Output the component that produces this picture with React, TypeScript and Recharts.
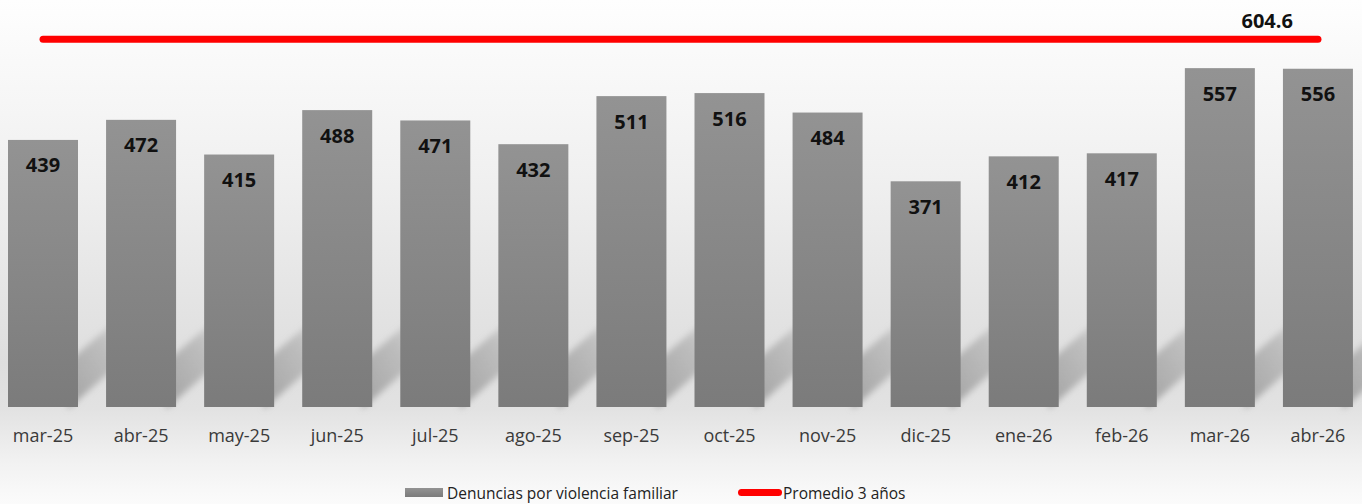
import React from 'react'
import { ComposedChart, Bar, Line, XAxis, YAxis, LabelList } from 'recharts'

const months = ['mar-25', 'abr-25', 'may-25', 'jun-25', 'jul-25', 'ago-25', 'sep-25', 'oct-25', 'nov-25', 'dic-25', 'ene-26', 'feb-26', 'mar-26', 'abr-26']
const denuncias = [439, 472, 415, 488, 471, 432, 511, 516, 484, 371, 412, 417, 557, 556]
const promedio = 604.6

const FONT = '"Open Sans", "Noto Sans", sans-serif'

const data = months.map((m, i) => ({ mes: m, denuncias: denuncias[i], promedio }))

// barra con sombra diagonal detrás
const BarWithShadow = (props: any) => {
  const { x, y, width, height } = props
  const b = y + height
  const r = x + width
  const pts = `${r - 10},${b + 2} ${r - 10},${b - 45} ${r + 60},${b - 105} ${r + 60},${b - 60}`
  return (
    <g>
      <polygon points={pts} fill="url(#shadowGrad)" filter="url(#shadowBlur)" />
      <rect x={x} y={y} width={width} height={height} fill="url(#barGrad)" />
    </g>
  )
}

const ValueLabel = (props: any) => {
  const { x, y, width, value } = props
  return (
    <text x={x + width / 2} y={y + 25} textAnchor="middle" dominantBaseline="central"
      style={{ fontFamily: FONT, fontSize: 20, fontWeight: 700, fill: '#111' }}>
      {value}
    </text>
  )
}

const AvgLabel = (props: any) => {
  const { x, y, value, index } = props
  if (index !== months.length - 1) return null
  return (
    <text x={x - 25} y={y - 19} textAnchor="end" dominantBaseline="central"
      style={{ fontFamily: FONT, fontSize: 20, fontWeight: 700, fill: '#111' }}>
      {value}
    </text>
  )
}

const MonthTick = (props: any) => {
  const { x, y, payload } = props
  return (
    <text x={x} y={y + 28} textAnchor="middle" dominantBaseline="central"
      style={{ fontFamily: FONT, fontSize: 18, fill: '#3a3a3a' }}>
      {payload.value}
    </text>
  )
}

export default function App() {
  return (
    <div style={{
      position: 'absolute', left: 0, top: 0, width: 1362, height: 504, overflow: 'hidden',
      background: 'linear-gradient(to bottom, #fefefe 0%, #f0f0f0 35%, #dedede 72%, #e2e2e2 81%, #f2f2f2 92%, #fbfbfb 100%)',
    }}>
      <div style={{ position: 'absolute', left: -6, top: 0 }}>
        <ComposedChart width={1373} height={504} data={data}
          margin={{ top: 0, right: 0, left: 0, bottom: 57 }}>
          <defs>
            <linearGradient id="barGrad" x1="0" y1="0" x2="0" y2="1">
              <stop offset="0%" stopColor="#939393" />
              <stop offset="100%" stopColor="#7b7b7b" />
            </linearGradient>
            <linearGradient id="shadowGrad" x1="0" y1="1" x2="1" y2="0">
              <stop offset="0%" stopColor="#9a9a9a" stopOpacity={0.9} />
              <stop offset="55%" stopColor="#a8a8a8" stopOpacity={0.6} />
              <stop offset="100%" stopColor="#c0c0c0" stopOpacity={0} />
            </linearGradient>
            <filter id="shadowBlur" x="-30%" y="-30%" width="160%" height="160%">
              <feGaussianBlur stdDeviation="3" />
            </filter>
          </defs>
          <XAxis dataKey="mes" axisLine={false} tickLine={false} tickSize={0} tickMargin={0}
            height={40} interval={0} tick={<MonthTick />} />
          <YAxis hide domain={[0, 669]} />
          <Bar dataKey="denuncias" barSize={70} shape={BarWithShadow} isAnimationActive={false}>
            <LabelList dataKey="denuncias" content={<ValueLabel />} />
          </Bar>
          <Line dataKey="promedio" type="linear" stroke="#ff0000" strokeWidth={7} strokeLinecap="round"
            dot={false} activeDot={false} isAnimationActive={false}>
            <LabelList dataKey="promedio" content={<AvgLabel />} />
          </Line>
        </ComposedChart>
      </div>

      {/* Leyenda */}
      <div style={{ position: 'absolute', top: 483, left: 0, width: 1362, height: 20, fontFamily: FONT, fontSize: 15.5, color: '#222' }}>
        <div style={{ position: 'absolute', left: 405, top: 5, width: 38, height: 9, background: 'linear-gradient(to bottom, #939393, #7b7b7b)' }} />
        <span style={{ position: 'absolute', left: 447, top: -1, whiteSpace: 'nowrap' }}>Denuncias por violencia familiar</span>
        <div style={{ position: 'absolute', left: 738, top: 6, width: 44, height: 7, borderRadius: 4, background: '#ff0000' }} />
        <span style={{ position: 'absolute', left: 783, top: -1, whiteSpace: 'nowrap' }}>Promedio 3 años</span>
      </div>
    </div>
  )
}
